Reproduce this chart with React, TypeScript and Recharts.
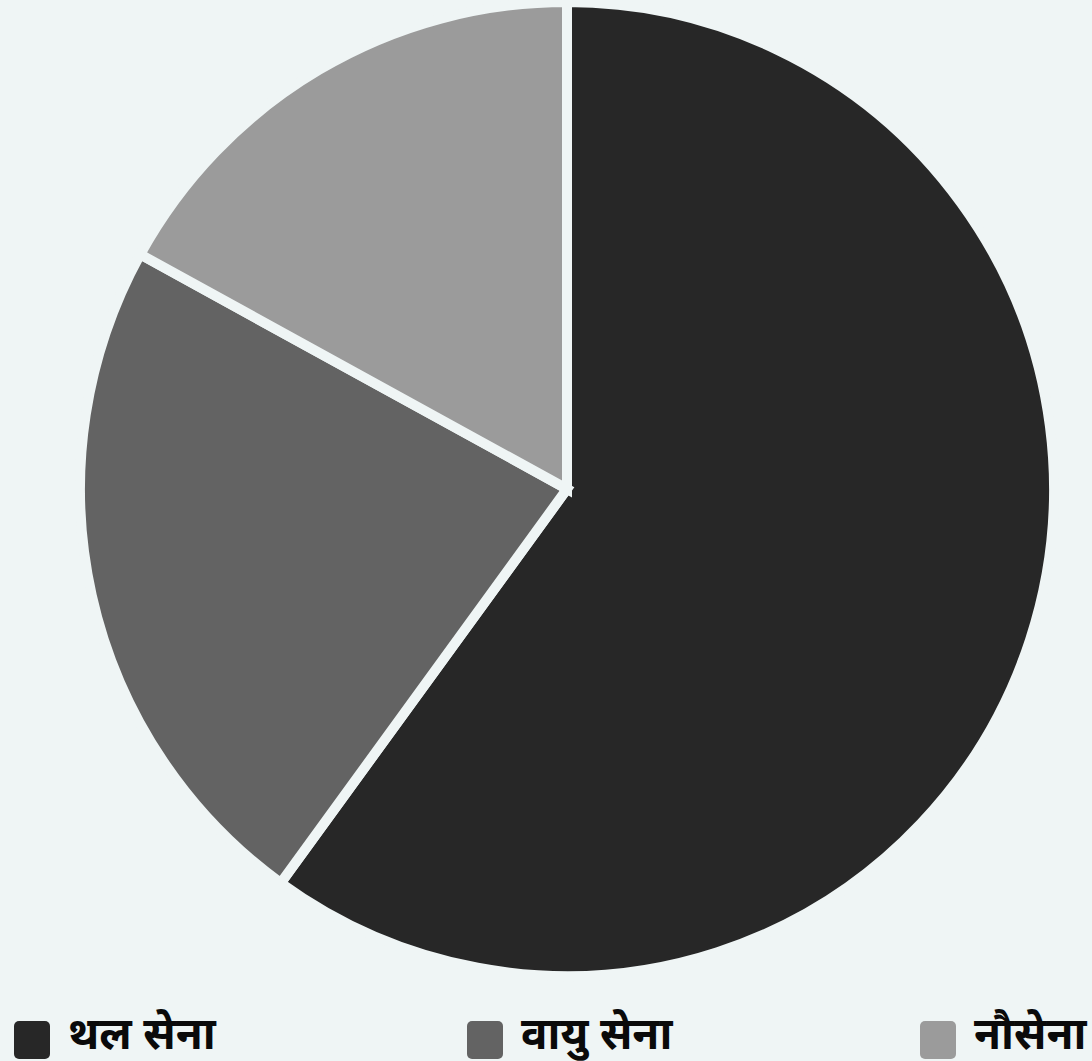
import { PieChart, Pie, Cell } from 'recharts';

const categories = ['थल सेना', 'वायु सेना', 'नौसेना'];
const shares = [60, 23, 17];
const COLORS = ['#272727', '#636363', '#9b9b9b'];

const pieData = categories.map((name, i) => ({ name, value: shares[i] }));

const BG = '#eff5f5';

export default function App() {
  return (
    <div
      style={{
        position: 'fixed',
        left: 0,
        top: 0,
        width: 1092,
        height: 1061,
        background: BG,
        overflow: 'hidden',
        fontFamily: '"Noto Sans", sans-serif',
      }}
    >
      <PieChart width={1092} height={985} margin={{ top: 0, right: 0, bottom: 0, left: 0 }}>
        <Pie
          data={pieData}
          dataKey="value"
          nameKey="name"
          cx={567}
          cy={489}
          outerRadius={487}
          startAngle={90}
          endAngle={-270}
          stroke={BG}
          strokeWidth={10}
          isAnimationActive={false}
        >
          {pieData.map((_entry, index) => (
            <Cell key={`cell-${index}`} fill={COLORS[index % COLORS.length]} />
          ))}
        </Pie>
      </PieChart>

      {pieData.map((d, idx) => (
        <div key={idx} style={{ position: 'absolute', top: 0, left: 14 + idx * 453, whiteSpace: 'nowrap' }}>
          <span
            style={{
              position: 'absolute',
              left: 0,
              top: 1021,
              width: 36,
              height: 38,
              borderRadius: 5,
              backgroundColor: COLORS[idx % COLORS.length],
            }}
          />
          <span
            style={{
              position: 'absolute',
              left: 54,
              top: 1007,
              fontSize: 44,
              fontWeight: 700,
              color: '#0a0a0a',
              lineHeight: '50px',
            }}
          >
            {d.name}
          </span>
        </div>
      ))}
    </div>
  );
}
